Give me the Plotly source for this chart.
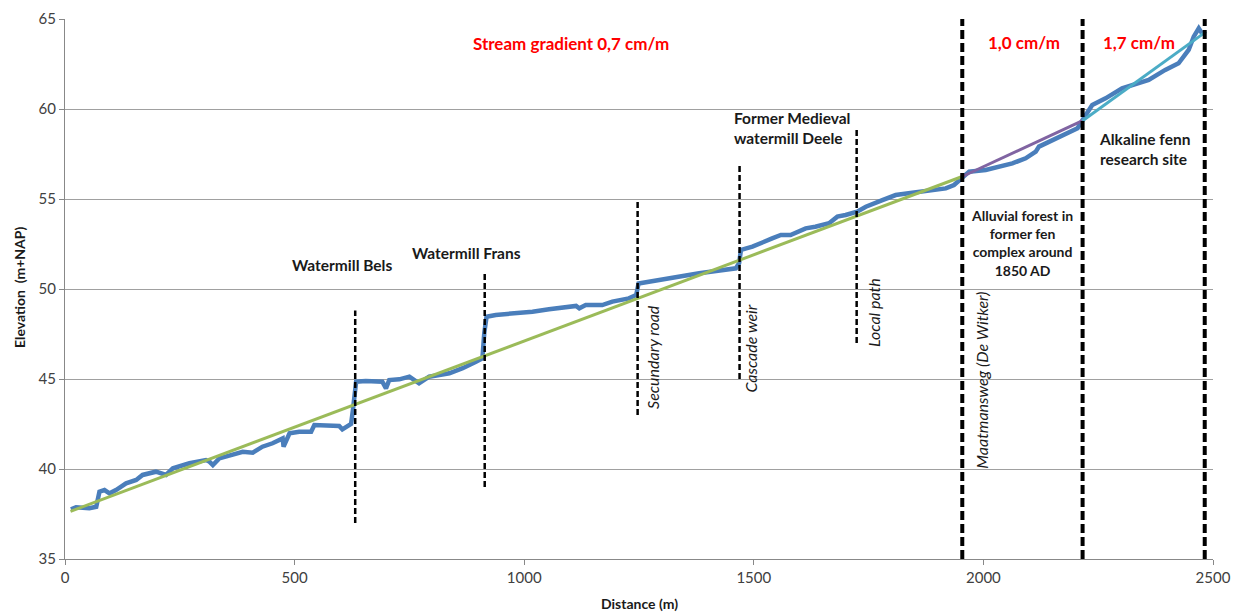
import plotly.graph_objects as go

# ---- data ----
profile_x = [13, 24, 53, 68, 75, 86, 97, 111, 133, 155,
             169, 198, 220, 235, 271, 307, 315, 322, 336, 365,
             387, 409, 430, 452, 474, 476, 489, 510, 536, 543,
             568, 597, 604, 615, 623, 627, 634, 655, 691, 699,
             706, 728, 750, 771, 793, 837, 866, 895, 909, 913,
             918, 938, 982, 1018, 1054, 1113, 1120, 1134, 1170, 1192,
             1228, 1244, 1249, 1279, 1345, 1381, 1461, 1468, 1472, 1497,
             1540, 1559, 1580, 1613, 1634, 1664, 1682, 1700, 1725, 1744,
             1780, 1809, 1845, 1889, 1918, 1936, 1951, 1969, 2005, 2034,
             2063, 2092, 2114, 2121, 2143, 2179, 2205, 2216, 2237, 2266,
             2302, 2360, 2396, 2425, 2447, 2458, 2469, 2476]
profile_y = [37.76, 37.87, 37.82, 37.9, 38.74, 38.83, 38.65, 38.83, 39.2, 39.39,
             39.67, 39.85, 39.67, 40.04, 40.32, 40.5, 40.4, 40.22, 40.59, 40.78,
             40.96, 40.91, 41.24, 41.43, 41.7, 41.24, 41.98, 42.07, 42.07, 42.44,
             42.44, 42.39, 42.2, 42.39, 42.5, 43.28, 44.85, 44.89, 44.85, 44.48,
             44.94, 44.98, 45.13, 44.76, 45.13, 45.32, 45.6, 45.96, 46.15, 47.54,
             48.46, 48.56, 48.65, 48.74, 48.87, 49.06, 48.93, 49.11, 49.11, 49.3,
             49.48, 49.67, 50.31, 50.44, 50.68, 50.87, 51.15, 51.43, 52.17, 52.35,
             52.81, 53.0, 53.0, 53.37, 53.46, 53.65, 54.02, 54.11, 54.3, 54.57,
             54.94, 55.22, 55.35, 55.5, 55.59, 55.78, 56.15, 56.52, 56.61, 56.8,
             56.98, 57.26, 57.63, 57.91, 58.19, 58.65, 58.93, 59.39, 60.22, 60.59,
             61.15, 61.61, 62.17, 62.54, 63.28, 64.02, 64.48, 64.2]

trend1_x = [12, 1954]
trend1_y = [37.65, 56.25]
trend2_x = [1954, 2216]
trend2_y = [56.25, 59.35]
trend3_x = [2216, 2485]
trend3_y = [59.35, 64.3]

feature_x = [632, 914, 1247, 1469, 1724]
feature_bottom = [37, 39, 43, 45, 47]
feature_top = [48.8, 51, 55, 57, 59]

boundary_x = [1954, 2216, 2482]
boundary_bottom = 35
boundary_top = 65

x_ticks = [0, 500, 1000, 1500, 2000, 2500]
y_ticks = [35, 40, 45, 50, 55, 60, 65]

FONT = "Lato"
DARK = "#1a1a1a"

fig = go.Figure()
fig.add_trace(go.Scatter(x=profile_x, y=profile_y, mode="lines",
                         line=dict(color="#4A7EBB", width=4.5), showlegend=False))
fig.add_trace(go.Scatter(x=trend1_x, y=trend1_y, mode="lines",
                         line=dict(color="#9BBB59", width=3), showlegend=False))
fig.add_trace(go.Scatter(x=trend2_x, y=trend2_y, mode="lines",
                         line=dict(color="#8064A2", width=3), showlegend=False))
fig.add_trace(go.Scatter(x=trend3_x, y=trend3_y, mode="lines",
                         line=dict(color="#4BACC6", width=3), showlegend=False))

for fx, b, t in zip(feature_x, feature_bottom, feature_top):
    fig.add_trace(go.Scatter(x=[fx, fx], y=[b, t], mode="lines",
                             line=dict(color="black", width=2.5, dash="6px,3px"),
                             showlegend=False))
for bx in boundary_x:
    fig.add_trace(go.Scatter(x=[bx, bx], y=[boundary_bottom, boundary_top], mode="lines",
                             line=dict(color="black", width=4, dash="9px,4px"),
                             showlegend=False))

red = "#FF0000"
bold_labels = [
    ("<b>Stream gradient 0,7 cm/m</b>", 1101, 63.65, red, "center", 17),
    ("<b>1,0 cm/m</b>", 2088, 63.68, red, "center", 17),
    ("<b>1,7 cm/m</b>", 2338, 63.68, red, "center", 17),
    ("<b>Watermill Bels</b>", 604, 51.33, DARK, "center", 15.5),
    ("<b>Watermill Frans</b>", 874, 52.0, DARK, "center", 15.5),
    ("<b>Former Medieval<br>watermill Deele</b>", 1453, 58.97, DARK, "left", 15.5),
    ("<b>Alluvial forest in<br>former fen<br>complex around<br>1850 AD</b>", 2084, 52.56, DARK, "center", 14),
    ("<b>Alkaline fenn<br>research site</b>", 2247, 57.78, DARK, "left", 15.5),
]
for txt, x, y, col, anchor, sz in bold_labels:
    fig.add_annotation(x=x, y=y, text=txt, showarrow=False, xanchor=anchor, yanchor="middle",
                       align=anchor, font=dict(family=FONT, size=sz, color=col))

rot_labels = [
    ("Secundary road", 1278, 46.22),
    ("Cascade weir", 1493, 46.67),
    ("Local path", 1762, 48.67),
    ("Maatmansweg (De Witker)", 1994, 44.94),
]
for txt, x, y in rot_labels:
    fig.add_annotation(x=x, y=y, text="<i>" + txt + "</i>", showarrow=False, textangle=-90,
                       xanchor="center", yanchor="middle",
                       font=dict(family=FONT, size=16, color=DARK))

fig.add_annotation(xref="paper", yref="paper", x=-0.039, y=0.504, text="<b>Elevation  (m+NAP)</b>",
                   textangle=-90, showarrow=False, xanchor="center", yanchor="middle",
                   font=dict(family=FONT, size=14, color=DARK))
fig.add_annotation(xref="paper", yref="paper", x=0.5, y=-0.083, text="<b>Distance (m)</b>",
                   showarrow=False, xanchor="center", yanchor="middle",
                   font=dict(family=FONT, size=14, color=DARK))

fig.update_layout(
    width=1238, height=612, autosize=False,
    margin=dict(l=65, r=25, t=19, b=53, pad=0),
    plot_bgcolor="white", paper_bgcolor="white",
    font=dict(family=FONT, size=14, color="#404040"),
    xaxis=dict(range=[0, 2500], tickvals=x_ticks, automargin=False,
               showgrid=False, zeroline=False, showline=True, linecolor="#888888",
               linewidth=1, ticks="outside", ticklen=5, tickcolor="#888888",
               tickfont=dict(family=FONT, size=15, color="#404040")),
    yaxis=dict(range=[35, 65], tickvals=y_ticks, automargin=False,
               showgrid=True, gridcolor="#A0A0A0", gridwidth=1, zeroline=False,
               showline=True, linecolor="#888888", linewidth=1,
               ticks="outside", ticklen=5, tickcolor="#888888",
               tickfont=dict(family=FONT, size=15, color="#404040")),
)

fig.write_html("out.html", config={"displayModeBar": False, "responsive": False},
               post_script="document.body.style.margin='0px';document.body.style.overflow='hidden';")
